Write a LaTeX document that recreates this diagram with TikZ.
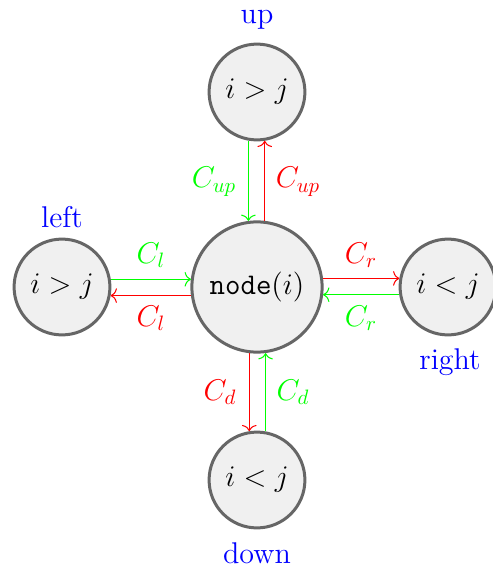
\documentclass[tikz,border=0pt]{standalone}
\usetikzlibrary{arrows.meta}
\definecolor{pgreen}{RGB}{0,255,0}
\definecolor{pred}{RGB}{255,0,0}
\definecolor{pblue}{RGB}{0,0,255}
\tikzset{
  cell/.style={circle, draw=black!60, fill=black!6, line width=1.44pt, inner sep=0pt, minimum size=46pt},
  bigcell/.style={cell, minimum size=62.5pt},
  dirlbl/.style={text=pblue},
  gar/.style={draw=pgreen, line width=0.5pt, -{To[length=3pt,width=7pt]}},
  rar/.style={draw=pred, line width=0.5pt, -{To[length=3pt,width=7pt]}},
  glbl/.style={text=pgreen},
  rlbl/.style={text=pred},
}
\begin{document}
\begin{tikzpicture}[x=0.48pt, y=-0.48pt, font=\Large]
\useasboundingbox (0,0) rectangle (492,568);
\node[bigcell] (c) at (257,287) {\texttt{node}$(i)$};
\node[cell] (u) at (257,92) {$i>j$};
\node[cell] (l) at (62,287) {$i>j$};
\node[cell] (r) at (448,287) {$i<j$};
\node[cell] (d) at (257,480) {$i<j$};
\node[dirlbl] (tu) at (257,20) {up};
\node[dirlbl] (tl) at (62,217) {left};
\node[dirlbl] (tr) at (450,362) {right};
\node[dirlbl] (td) at (257,553) {down};
% up
\draw[gar] (u.260.6) -- (u.260.6 |- c.97);
\draw[rar] (u.279.4 |- c.83) -- (u.279.4);
\node[glbl] (gu) at (214,182) {$C_{up}$};
\node[rlbl] (ru) at (298,182) {$C_{up}$};
% left
\draw[gar] (l.9.4) -- (c.173 |- l.9.4);
\draw[rar] (c.187 |- l.350.6) -- (l.350.6);
\node[glbl] (gl) at (151,255) {$C_l$};
\node[rlbl] (rl) at (151,318) {$C_l$};
% right
\draw[rar] (c.7 |- r.170.6) -- (r.170.6);
\draw[gar] (r.189.4) -- (c.353 |- r.189.4);
\node[rlbl] (rr) at (361,255) {$C_r$};
\node[glbl] (gr) at (361,318) {$C_r$};
% down
\draw[rar] (d.99.4 |- c.263) -- (d.99.4);
\draw[gar] (d.80.6) -- (d.80.6 |- c.277);
\node[rlbl] (rd) at (220,392) {$C_d$};
\node[glbl] (gd) at (293,392) {$C_d$};
\end{tikzpicture}
\end{document}
